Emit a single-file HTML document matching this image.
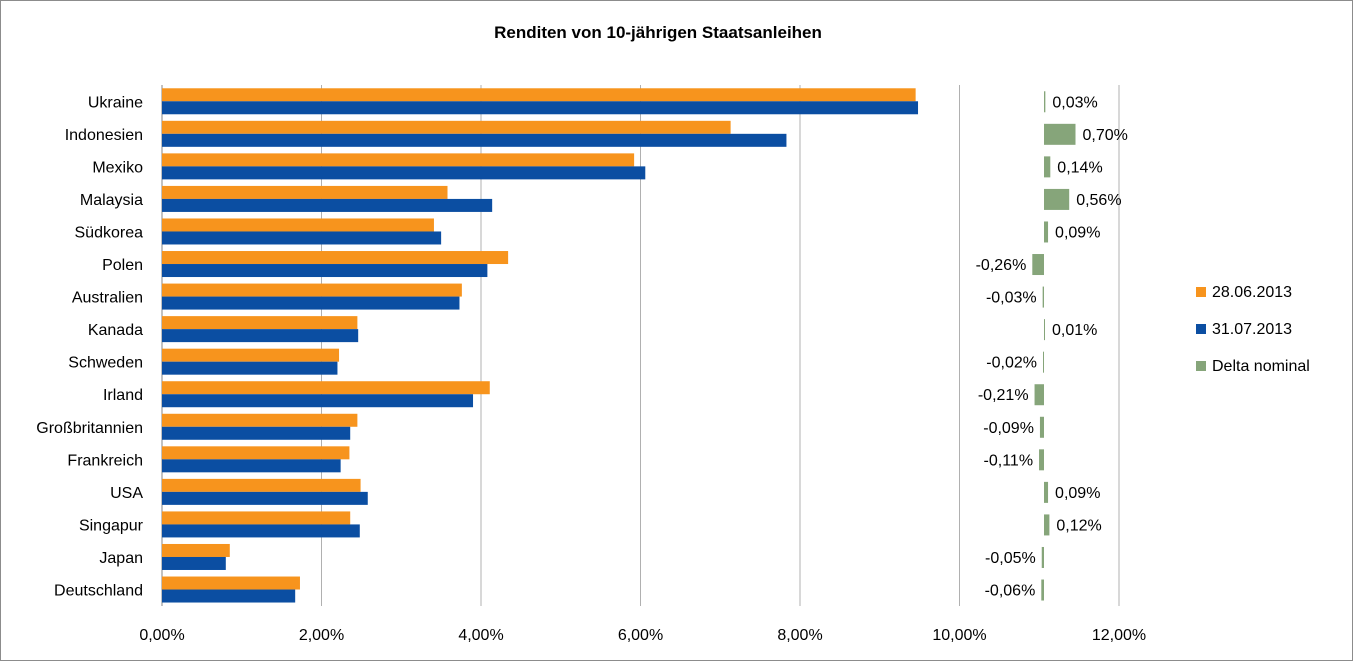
<!DOCTYPE html>
<html><head><meta charset="utf-8"><style>
body{margin:0;background:#fff;font-family:"Liberation Sans",sans-serif;}
svg text{font-family:"Liberation Sans",sans-serif;}
</style></head><body>
<svg id="chart" width="1353" height="661" xmlns="http://www.w3.org/2000/svg">
<rect x="0.5" y="0.5" width="1352" height="660" fill="#fff" stroke="#8c8c8c"/>
<text x="658" y="38" text-anchor="middle" font-size="17" font-weight="bold">Renditen von 10-jährigen Staatsanleihen</text>
<g id="grid"></g><g id="bars"></g><g id="labels"></g>
<g>
<rect x="1196" y="287" width="10" height="10" fill="#f7941d"/>
<text x="1212" y="297" font-size="16">28.06.2013</text>
<rect x="1196" y="324" width="10" height="10" fill="#0b4ea2"/>
<text x="1212" y="334" font-size="16">31.07.2013</text>
<rect x="1196" y="361" width="10" height="10" fill="#86a57a"/>
<text x="1212" y="371" font-size="16">Delta nominal</text>
</g>
</svg>
<script>
const categories=["Ukraine","Indonesien","Mexiko","Malaysia","Südkorea","Polen","Australien","Kanada","Schweden","Irland","Großbritannien","Frankreich","USA","Singapur","Japan","Deutschland"];
const june=[9.45,7.13,5.92,3.58,3.41,4.34,3.76,2.45,2.22,4.11,2.45,2.35,2.49,2.36,0.85,1.73];
const july=[9.48,7.83,6.06,4.14,3.50,4.08,3.73,2.46,2.20,3.90,2.36,2.24,2.58,2.48,0.80,1.67];
const delta=[0.03,0.70,0.14,0.56,0.09,-0.26,-0.03,0.01,-0.02,-0.21,-0.09,-0.11,0.09,0.12,-0.05,-0.06];
const ticks=[0,2,4,6,8,10,12];
const NS="http://www.w3.org/2000/svg";
const x0=162,pxPer=79.75,plotTop=85,band=32.55,dZero=1044,dPx=45;
const xs=v=>x0+v*pxPer;
const yc=i=>plotTop+band*i+band/2;
const dx=v=>dZero+v*dPx;
function mk(t,a,p){const e=document.createElementNS(NS,t);for(const k in a)e.setAttribute(k,a[k]);p.appendChild(e);return e;}
const g=document.getElementById('grid'),b=document.getElementById('bars'),l=document.getElementById('labels');
ticks.forEach(t=>{
 const ln=mk('line',{x1:xs(t),x2:xs(t),y1:plotTop,y2:606,stroke:t===0?'#868686':'#b0b0b0'},g);
 
 
 const tx=mk('text',{x:xs(t),y:640,'text-anchor':'middle','font-size':16},l);
 tx.textContent=t.toFixed(2).replace('.',',')+'%';
 
 
});
categories.forEach((c,i)=>{
 const y=yc(i);
 const t=mk('text',{x:143,y:y+6,'text-anchor':'end','font-size':16},l);
 t.textContent=c;
 
 
 const r1=mk('rect',{x:x0,y:y-13,width:xs(june[i])-x0,height:13,fill:'#f7941d'},b);
 
 
 const r2=mk('rect',{x:x0,y:y,width:xs(july[i])-x0,height:13,fill:'#0b4ea2'},b);
 
 
 const d=delta[i];
 const w=Math.max(Math.abs(dx(d)-dZero),1);
 const r3=mk('rect',{x:d>=0?dZero:dZero-w,y:y-10,width:w,height:21,fill:'#86a57a'},b);
 
 
 const lbl=mk('text',{x:d>=0?dZero+w+7:dZero-w-6,y:y+6,'text-anchor':d>=0?'start':'end','font-size':16},l);
 lbl.textContent=d.toFixed(2).replace('.',',')+'%';
 
 
});
</script>
</body></html>
